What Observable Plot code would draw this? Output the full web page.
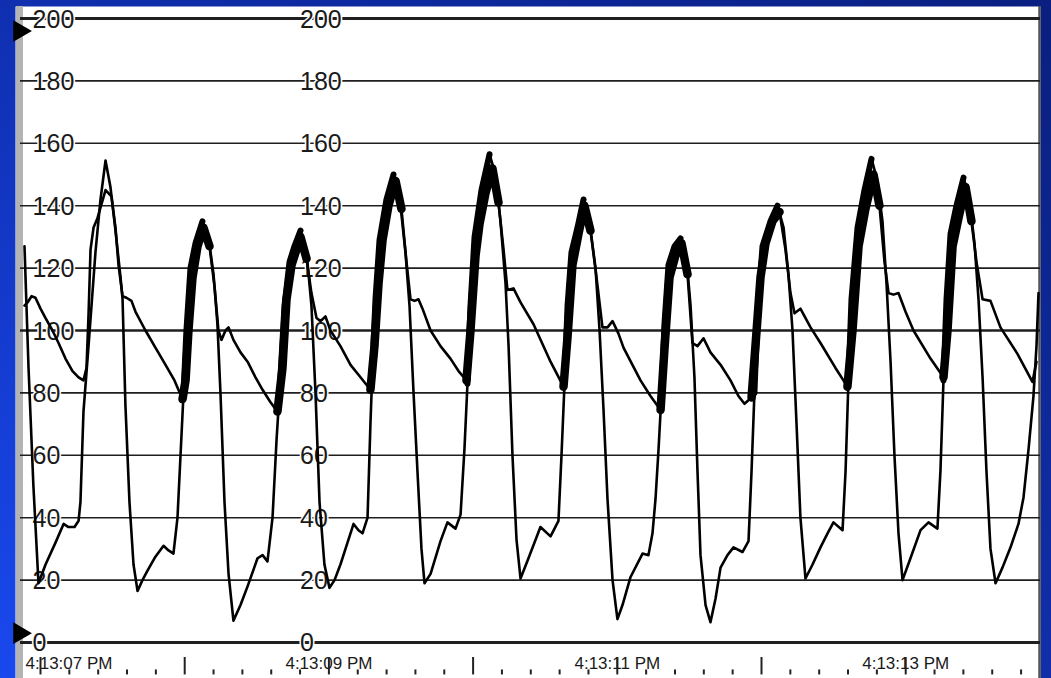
<!DOCTYPE html>
<html>
<head>
<meta charset="utf-8">
<script src="https://cdn.jsdelivr.net/npm/d3@7"></script>
<script src="https://cdn.jsdelivr.net/npm/@observablehq/plot@0.6"></script>
<style>
  html, body { margin: 0; padding: 0; }
  body {
    width: 1051px; height: 678px; overflow: hidden;
    background:
      linear-gradient(to right, rgba(0,0,30,0) 0%, rgba(0,0,40,0.35) 100%),
      linear-gradient(to bottom, #0f2fb0, #1948ee);
  }
  #chart svg { display: block; }
</style>
</head>
<body>
<div id="chart"></div>
<script>
// ---- Data (seconds after 4:13:07 PM, pressure in mmHg) ----
const lvSeconds = [
  -0.111,-0.083,-0.049,-0.014,0.035,0.104,0.160,0.194,0.236,0.264,0.277,0.298,0.333,0.381,0.416,0.451,0.485,0.520,0.555,0.569,0.589,0.617,0.645,0.673,0.707,0.742,0.797,0.853,0.888,0.922,0.950,0.971,
  0.992,1.012,1.040,1.075,1.123,1.165,1.200,1.227,1.248,1.276,1.304,1.338,1.387,1.436,1.505,1.540,1.574,1.609,1.637,1.664,
  1.692,1.727,1.761,1.803,1.845,1.879,1.907,1.935,1.969,2.004,2.039,2.080,2.129,2.171,2.205,2.233,2.268,2.288,
  2.302,2.323,2.351,2.399,2.448,2.490,2.531,2.559,2.587,2.614,2.642,2.663,2.705,2.774,2.822,2.878,2.913,2.940,
  2.961,2.982,3.010,3.058,3.114,3.155,3.190,3.225,3.246,3.273,3.301,3.329,3.384,3.467,3.537,3.592,3.613,
  3.634,3.655,3.682,3.724,3.766,3.807,3.849,3.877,3.904,3.932,3.967,4.001,4.036,4.092,4.175,4.216,4.244,4.265,4.286,
  4.307,4.327,4.355,4.397,4.438,4.480,4.508,4.535,4.556,4.577,4.612,4.646,4.681,4.716,4.764,4.806,4.868,4.910,4.931,
  4.951,4.972,5.007,5.062,5.111,5.153,5.187,5.215,5.243,5.270,5.305,5.354,5.409,5.458,5.499,5.562,5.583,
  5.603,5.624,5.666,5.714,5.763,5.804,5.839,5.867,5.895,5.922,5.950,5.978,6.033,6.103,6.158,6.220,6.241,
  6.262,6.283,6.311,6.352,6.401,6.442,6.477,6.505,6.533,6.560,6.588,6.623,6.671,6.727,6.782,6.817,6.852,6.886,6.907,6.921
];
const lvMmHg = [
  127,88,50,19,25,32,38,37,37,39,45,74,95,125,142,154.5,146,132,117,110,76,45,25,16.5,20,23,27.5,31,29.5,28.5,40,60,
  80,100,120,128,135,130,118,102,80,45,22,7,12,18,27,28,26,40,65,85,
  108,122,127,132,125,108,80,45,25,17.5,20,25,32,38,36,35,40,70,
  88,110,129,142,150,143,125,108,80,55,30,19,22,32.5,38.5,36.5,41,62,
  83,108,130,145,156.5,150,135,115,95,60,33,20.5,27,37,34,39,60,
  83,108,125,133,142,135,120,100,75,46,20,7.5,12,21,28.5,28,35,46,62,
  80,102,121,127,129.5,123,108,85,55,28,12,6.5,14,24,28,30.5,29,32.5,55,
  80,105,127,135,140,133,118,100,70,40,20.5,25,30.5,35,38.5,36,55,
  84,110,133,145,155,148,135,115,90,60,35,20,27,36,38.5,36.5,55,
  84,110,131,140,149,142,128,110,85,55,30,19,24,30.5,38,46.5,62,79,95,112
];
const aoSeconds = [
  -0.111,-0.090,-0.062,-0.035,0.000,0.035,0.083,0.125,0.173,0.222,0.264,0.298,0.319,0.333,0.347,0.368,0.395,0.451,0.492,0.520,0.541,0.569,0.596,0.631,0.659,0.728,0.797,0.867,0.929,0.985,
  1.006,1.026,1.054,1.089,1.130,1.172,1.207,1.234,1.255,1.283,1.304,1.338,1.387,1.436,1.491,1.540,1.595,1.643,
  1.678,1.706,1.741,1.803,1.845,1.879,1.914,1.942,1.976,2.011,2.080,2.150,2.219,2.288,
  2.316,2.344,2.372,2.413,2.462,2.503,2.538,2.566,2.594,2.621,2.649,2.705,2.774,2.843,2.899,2.954,
  2.982,3.017,3.044,3.086,3.134,3.176,3.211,3.238,3.280,3.329,3.419,3.537,3.627,
  3.655,3.689,3.731,3.772,3.814,3.856,3.897,3.932,3.967,4.008,4.043,4.105,4.161,4.230,4.300,
  4.327,4.362,4.403,4.445,4.487,4.521,4.556,4.598,4.646,4.716,4.785,4.840,4.882,4.931,
  4.958,4.993,5.028,5.076,5.125,5.166,5.201,5.229,5.270,5.340,5.409,5.513,5.596,
  5.631,5.673,5.721,5.777,5.818,5.853,5.881,5.915,5.950,5.999,6.054,6.172,6.262,
  6.290,6.325,6.366,6.415,6.456,6.491,6.533,6.588,6.657,6.775,6.879,6.907
];
const aoMmHg = [
  108,109,111,110.5,107,104,100,96,91,87,85,84,88,105,126,133,136,145,143,133,121,111,110.5,109.5,106,100,94.5,89,84,78,
  84,100,117,127,133,127,114,100,97,100,101,97,93,90,85,81,77,74,
  88,110,121,130,123,112,104,103,104.5,100,95,89,85,81,
  95,115,129,140,148,139,122,110,109.5,110,107,100,95,91,87,84,
  100,124,134,144,152,141,126,113,113.5,109,102,90,82,
  98,121,131,140,132,117,101,101,103,99,94.5,89,84,79,74.5,
  94,117,124,128,118,96,95,97.5,93,89,84,79,76.5,78.5,
  95,117,128,135,138,126,112,105.5,107,101,96,88,82,
  100,127,139,150,140,122,112,111.5,112,106,100,91,85,
  100,127,136,146,135,122,110,109.5,101,92.5,83.5,90
];
// systolic ejection windows (s) where both traces overlap (drawn heavy)
const ejectionStart = [0.985, 1.643, 2.288, 2.954, 3.627, 4.300, 4.931, 5.596, 6.262];
const ejectionEnd   = [1.172, 1.845, 2.503, 3.176, 3.814, 4.487, 5.125, 5.818, 6.456];

const gridValues = [200, 180, 160, 140, 120, 100, 80, 60, 40, 20, 0];
const timeLabelSeconds = [0, 2, 4, 6];
const timeLabels = ["4:13:07 PM", "4:13:09 PM", "4:13:11 PM", "4:13:13 PM"];
const scaleMarkers = [196, 3];

// ---- Layout constants ----
const xMin = -0.1734, xMax = 6.9348;
const yMin = -11.54, yMax = 203.85;
const gridStartX = -0.1387;
const leftLabelX = -0.055, rightLabelX = 1.80;

const lv = lvSeconds.map((t, i) => ({t, p: lvMmHg[i]}));
const ao = aoSeconds.map((t, i) => ({t, p: aoMmHg[i]}));
const inWin = (d, k) => d.t >= ejectionStart[k] && d.t <= ejectionEnd[k];
const ejAo = ejectionStart.flatMap((s, k) => ao.filter(d => inWin(d, k)).map(d => ({...d, beat: k})));
// LV upstroke (above aortic diastolic level) up to its systolic peak within each window
const ejLv = ejectionStart.flatMap((s, k) => {
  const pts = lv.filter(d => inWin(d, k));
  const peak = d3.greatest(pts, d => d.p);
  return pts.filter(d => d.t <= peak.t && d.p >= 78).map(d => ({...d, beat: k}));
});

const majorTicks = d3.range(0, 7, 1);
const minorTicks = d3.range(0, 35).map(i => i * 0.2).filter(v => Math.abs(v - Math.round(v)) > 1e-6);
const font = "'Liberation Sans', Arial, Helvetica, sans-serif";

const chart = Plot.plot({
  width: 1051,
  height: 678,
  marginLeft: 15,
  marginRight: 11,
  marginTop: 6,
  marginBottom: 0,
  x: {domain: [xMin, xMax], axis: null},
  y: {domain: [yMin, yMax], axis: null},
  style: {background: "transparent", fontFamily: font},
  marks: [
    Plot.frame({fill: "white", stroke: null}),
    Plot.ruleX([xMin], {stroke: "#b4b4b4", strokeWidth: 7, dx: 4}),
    Plot.ruleX([xMax], {stroke: "#555", strokeWidth: 2.5, dx: -1}),
    Plot.ruleY(gridValues, {
      y: d => d, x1: gridStartX, x2: xMax,
      stroke: "#1f1f1f",
      strokeWidth: d => (d === 200 || d === 0) ? 3 : (d === 100 ? 2.4 : 1.6)
    }),
    Plot.text(gridValues, {
      x: leftLabelX, y: d => d, text: d => String(d),
      textAnchor: "start", lineAnchor: "middle", dy: 1,
      fontSize: 25, fill: "#1a1a1a", stroke: "white", strokeWidth: 3
    }),
    Plot.text(gridValues, {
      x: rightLabelX, y: d => d, text: d => String(d),
      textAnchor: "start", lineAnchor: "middle", dy: 1,
      fontSize: 25, fill: "#1a1a1a", stroke: "white", strokeWidth: 3
    }),
    Plot.text(timeLabels.slice(1), {
      x: (d, i) => timeLabelSeconds[i + 1], y: -8.6, text: d => d,
      textAnchor: "middle", lineAnchor: "bottom",
      fontSize: 17, fill: "#1a1a1a"
    }),
    Plot.text(timeLabels.slice(0, 1), {
      x: xMin, y: -8.6, text: d => d, dx: 10,
      textAnchor: "start", lineAnchor: "bottom",
      fontSize: 17, fill: "#1a1a1a"
    }),
    Plot.ruleX(minorTicks, {x: d => d, y1: -8.8, y2: -10.4, stroke: "#222", strokeWidth: 2}),
    Plot.ruleX(majorTicks, {x: d => d, y1: -4.8, y2: -10.4, stroke: "#222", strokeWidth: 2}),
    Plot.dot(scaleMarkers, {x: xMin, y: d => d, dx: 4, symbol: "triangle", rotate: 90, r: 8, fill: "black", stroke: null}),
    Plot.line(ejAo, {x: "t", y: "p", z: "beat", stroke: "black", strokeWidth: 8.5, strokeLinejoin: "round", strokeLinecap: "round"}),
    Plot.line(ejLv, {x: "t", y: "p", z: "beat", stroke: "black", strokeWidth: 6, strokeLinejoin: "round", strokeLinecap: "round"}),
    Plot.line(ao, {x: "t", y: "p", stroke: "black", strokeWidth: 2.6, strokeLinejoin: "round"}),
    Plot.line(lv, {x: "t", y: "p", stroke: "black", strokeWidth: 2.6, strokeLinejoin: "round"})
  ]
});
document.getElementById("chart").appendChild(chart);
</script>
</body>
</html>
